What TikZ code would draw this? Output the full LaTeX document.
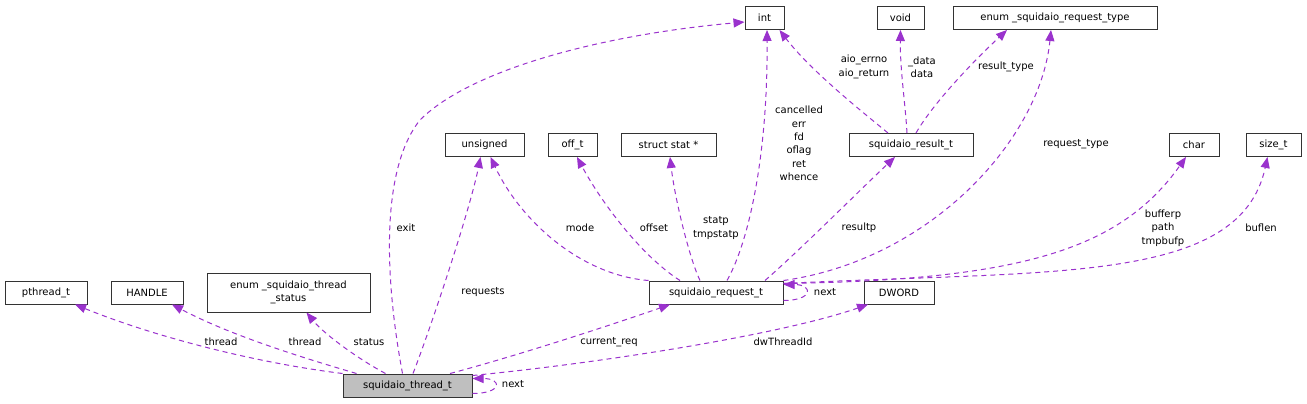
\documentclass[tikz,border=0pt]{standalone}
\usepackage{fontspec}
\setmainfont{DejaVu Sans}
\usetikzlibrary{arrows.meta}
\definecolor{edgepurple}{HTML}{9A32CD}
\definecolor{rootgray}{HTML}{BFBFBF}
\begin{document}
\begin{tikzpicture}[x=1pt,y=-1pt,
  font=\fontsize{10}{13.4}\selectfont,
  box/.style={draw=black!80,line width=1pt,fill=white,minimum height=23pt,inner sep=0pt,align=center},
  member/.style={draw=edgepurple,line width=1pt,dash pattern=on 5pt off 4pt,-{Triangle[length=11pt,width=9pt]}},
  lbl/.style={inner sep=0pt,align=center}]
\useasboundingbox (0,0) rectangle (1307,404);
\fill[white] (0,0) rectangle (1307,404);
% types
\node[box,minimum width=39pt] (intt) at (764.5,18) {int};
\node[box,minimum width=47pt] (voidt) at (900.5,18) {void};
\node[box,minimum width=204pt] (rtype) at (1055,18) {enum \_squidaio\_request\_type};
\node[box,minimum width=79pt] (unsignedt) at (484.5,145) {unsigned};
\node[box,minimum width=49pt] (offt) at (572.5,145) {off\_t};
\node[box,minimum width=95pt] (statt) at (668.5,145) {struct stat *};
\node[box,minimum width=124pt] (result) at (911,145) {squidaio\_result\_t};
\node[box,minimum width=50pt] (chart) at (1194,145) {char};
\node[box,minimum width=55pt] (sizet) at (1273.5,145) {size\_t};
\node[box,minimum width=82pt] (pthreadt) at (46,292.5) {pthread\_t};
\node[box,minimum width=72pt] (handle) at (147,292.5) {HANDLE};
\node[box,minimum width=163pt,minimum height=39pt,font=\fontsize{10}{12.5}\selectfont] (tstatus) at (288.5,292.5) {enum \_squidaio\_thread\\\_status};
\node[box,minimum width=134pt] (request) at (716,292.5) {squidaio\_request\_t};
\node[box,minimum width=70pt] (dword) at (899,292.5) {DWORD};
\node[box,minimum width=129pt,fill=rootgray] (thread) at (407.5,385.5) {squidaio\_thread\_t};
% squidaio_thread_t members
\draw[member] (thread.north west) .. controls (250,362) and (150,335) .. ([xshift=29pt]pthreadt.south);
\draw[member] ([xshift=14pt]thread.north west) .. controls (300,357) and (230,335) .. ([xshift=25pt]handle.south);
\draw[member] ([xshift=-22pt]thread.north) .. controls (360,360) and (325,335) .. ([xshift=18pt]tstatus.south);
\draw[member] ([xshift=-5pt]thread.north) .. controls (385,280) and (380,170) .. (420,120)
  .. controls (470,70) and (600,35) .. ([yshift=-4pt]intt.west);
\draw[member] ([xshift=5.5pt]thread.north) .. controls (430,330) and (470,210) .. ([xshift=-4pt]unsignedt.south);
\draw[member] ([xshift=42.5pt]thread.north) .. controls (520,355) and (620,322) .. ([xshift=-46pt]request.south);
\draw[member] ([yshift=-2pt]thread.north east) .. controls (600,363) and (780,335) .. ([xshift=-31pt]dword.south);
\draw[member] ([yshift=-8pt]thread.east) .. controls +(30,0) and +(30,0) .. ([yshift=7pt]thread.east);
\node[lbl] (lpthread) at (221,342) {thread};
\node[lbl] (lhandle) at (305,342) {thread};
\node[lbl] (lstatus) at (369,342) {status};
\node[lbl] (lexit) at (406,228) {exit};
\node[lbl] (lrequests) at (483,292) {requests};
\node[lbl] (lcurrent) at (609,342) {current\_req};
\node[lbl] (ldword) at (783,342) {dwThreadId};
\node[lbl] (lnextthr) at (513,384) {next};
% squidaio_request_t members
\draw[member] (request.north west) .. controls (580,275) and (520,220) .. ([xshift=6pt]unsignedt.south);
\draw[member] ([xshift=-36pt]request.north) .. controls (640,255) and (600,200) .. ([xshift=4.5pt]offt.south);
\draw[member] ([xshift=-16pt]request.north) .. controls (690,260) and (675,200) .. ([xshift=1.5pt]statt.south);
\draw[member] ([xshift=11pt]request.north) .. controls (750,240) and (768,150) .. ([xshift=2.5pt]intt.south);
\draw[member] ([xshift=49pt]request.north) .. controls (800,250) and (860,190) .. ([xshift=-16pt]result.south);
\draw[member] (request.north east) .. controls (930,260) and (1040,140) .. ([xshift=-4pt]rtype.south);
\draw[member] ([yshift=-3pt]request.north east) .. controls (1020,280) and (1120,250) .. ([xshift=-8pt]chart.south);
\draw[member] ([yshift=-3pt]request.north east) .. controls (1050,270) and (1240,285) .. ([xshift=-6pt]sizet.south);
\draw[member] ([yshift=-8pt]request.east) .. controls +(30,0) and +(30,0) .. ([yshift=8pt]request.east);
\node[lbl] (lmode) at (580,228) {mode};
\node[lbl] (loffset) at (654,228) {offset};
\node[lbl] (lstatp) at (716,228) {statp\\tmpstatp};
\node[lbl] (lints) at (799,143.5) {cancelled\\err\\fd\\oflag\\ret\\whence};
\node[lbl] (lresultp) at (859,228) {resultp};
\node[lbl] (lrtype) at (1076,144) {request\_type};
\node[lbl] (lbuf) at (1163,228) {bufferp\\path\\tmpbufp};
\node[lbl] (lbuflen) at (1261,228) {buflen};
\node[lbl] (lnextreq) at (825,292) {next};
% squidaio_result_t members
\draw[member] ([xshift=-23pt]result.north) .. controls (860,110) and (810,70) .. ([xshift=15pt]intt.south);
\draw[member] ([xshift=-4pt]result.north) .. controls (905,100) and (900,70) .. (voidt.south);
\draw[member] ([xshift=5pt]result.north) .. controls (935,100) and (980,55) .. ([xshift=-48pt]rtype.south);
\node[lbl] (laio) at (864,67) {aio\_errno\\aio\_return};
\node[lbl] (ldata) at (922,67) {\_data\\data};
\node[lbl] (lresult) at (1006,67) {result\_type};
\end{tikzpicture}
\end{document}
